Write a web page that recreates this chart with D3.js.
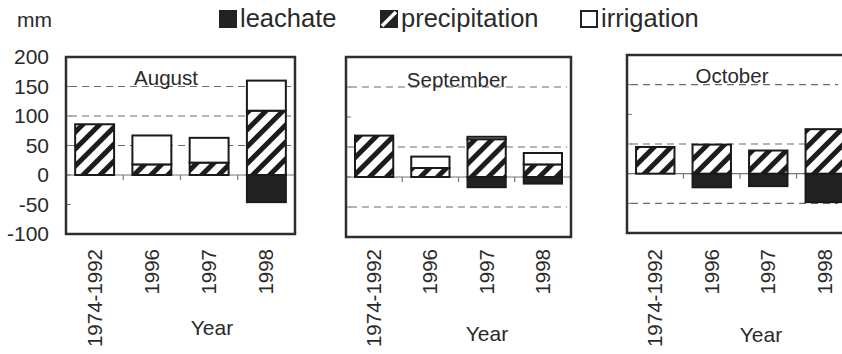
<!DOCTYPE html>
<html>
<head>
<meta charset="utf-8">
<script src="https://cdn.jsdelivr.net/npm/d3@7"></script>
<style>
  body { margin: 0; background: #fff; }
  text { font-family: "Liberation Sans", Arial, sans-serif; fill: #2a2a2a; }
</style>
</head>
<body>
<div id="chart"></div>
<script>
// data (mm)
var years = ["1974-1992", "1996", "1997", "1998"];
var months = ["August", "September", "October"];
var leachate = [
    [0, 0, 0, -46],     // August
    [0, 0, -17, -11],   // September
    [0, -23, -21, -48]  // October
];
var precipitation = [
    [86, 18, 21, 109],
    [69, 15, 63, 21],
    [45, 49, 39, 75]
];
var irrigation = [
    [0, 49, 42, 51],
    [0, 19, 4, 19],
    [0, 0, 0, 0]
];
var yTicks = [200, 150, 100, 50, 0, -50, -100];
// dashed lines that show in each panel of the scan
var gridLines = [[150, 100, 50], [150, 50, -50], [150, 50, -50]];

var width = 842, height = 354;

// panel frames (the scan is not quite square, so each has its own box)
var panels = [
    {x0: 66,  x1: 295, y0: 57, y1: 234, title: [166, 85], year: [212, 335]},
    {x0: 346, x1: 571, y0: 57, y1: 237, title: [457, 87], year: [487, 341]},
    {x0: 627, x1: 853, y0: 55, y1: 233, title: [732, 83], year: [761, 342]}
];

const svg = d3.select("#chart")
    .append("svg")
    .attr("width", width)
    .attr("height", height);

// hatch for precipitation
var defs = svg.append("defs");
defs.append("pattern")
    .attr("id", "hatch")
    .attr("patternUnits", "userSpaceOnUse")
    .attr("width", 12)
    .attr("height", 12)
    .attr("patternTransform", "rotate(45)")
    .call(function(p){
        p.append("rect").attr("width", 12).attr("height", 12).attr("fill", "#fff");
        p.append("rect").attr("width", 5).attr("height", 12).attr("fill", "#1c1c1c");
    });

months.forEach(function(month, m) {
    var p = panels[m];

    var xScale = d3.scaleBand()
        .domain(years)
        .range([p.x0, p.x1])
        .paddingInner(0.32)
        .paddingOuter(0.16);

    var yScale = d3.scaleLinear()
        .domain([-100, 200])
        .range([p.y1, p.y0]);

    var g = svg.append("g").attr("class", "panel");

    // dashed grid
    g.selectAll("line.grid")
        .data(gridLines[m])
        .enter()
        .append("line")
        .attr("class", "grid")
        .attr("x1", p.x0 + 4)
        .attr("x2", Math.min(p.x1, width) - 4)
        .attr("y1", d => yScale(d))
        .attr("y2", d => yScale(d))
        .attr("stroke", "#6a6a6a")
        .attr("stroke-width", 1.2)
        .attr("stroke-dasharray", "7,5");

    // zero line with ticks between categories
    g.append("line")
        .attr("x1", p.x0).attr("x2", Math.min(p.x1, width))
        .attr("y1", yScale(0)).attr("y2", yScale(0))
        .attr("stroke", "#777").attr("stroke-width", 1.2);

    var step = xScale.step();
    g.selectAll("line.xtick")
        .data(years.slice(1))
        .enter()
        .append("line")
        .attr("class", "xtick")
        .attr("x1", d => xScale(d) - step * 0.32 / 2)
        .attr("x2", d => xScale(d) - step * 0.32 / 2)
        .attr("y1", yScale(0))
        .attr("y2", yScale(0) + 5)
        .attr("stroke", "#777").attr("stroke-width", 1.2);

    // small inward ticks on the left edge
    g.selectAll("line.ytick")
        .data(yTicks)
        .enter()
        .append("line")
        .attr("class", "ytick")
        .attr("x1", p.x0).attr("x2", p.x0 + 5)
        .attr("y1", d => yScale(d)).attr("y2", d => yScale(d))
        .attr("stroke", "#777").attr("stroke-width", 1);

    // stacked bars: leachate below zero, precipitation then irrigation above
    var rows = years.map(function(y, i) {
        return {
            year: y,
            leach: leachate[m][i],
            prec: precipitation[m][i],
            irr: irrigation[m][i]
        };
    });

    var bars = g.selectAll("g.bar")
        .data(rows)
        .enter()
        .append("g")
        .attr("class", "bar");

    bars.filter(d => d.leach < 0)
        .append("rect")
        .attr("x", d => xScale(d.year))
        .attr("width", xScale.bandwidth())
        .attr("y", yScale(0))
        .attr("height", d => yScale(d.leach) - yScale(0))
        .attr("fill", "#222")
        .attr("stroke", "#1a1a1a")
        .attr("stroke-width", 2);

    bars.append("rect")
        .attr("x", d => xScale(d.year))
        .attr("width", xScale.bandwidth())
        .attr("y", d => yScale(d.prec))
        .attr("height", d => yScale(0) - yScale(d.prec))
        .attr("fill", "url(#hatch)")
        .attr("stroke", "#1a1a1a")
        .attr("stroke-width", 2);

    bars.filter(d => d.irr > 0)
        .append("rect")
        .attr("x", d => xScale(d.year))
        .attr("width", xScale.bandwidth())
        .attr("y", d => yScale(d.prec + d.irr))
        .attr("height", d => yScale(d.prec) - yScale(d.prec + d.irr))
        .attr("fill", "#fff")
        .attr("stroke", "#1a1a1a")
        .attr("stroke-width", 2);

    // frame
    g.append("rect")
        .attr("x", p.x0).attr("y", p.y0)
        .attr("width", p.x1 - p.x0).attr("height", p.y1 - p.y0)
        .attr("fill", "none")
        .attr("stroke", "#2e2e2e")
        .attr("stroke-width", 2.5);

    // month title
    g.append("text")
        .attr("x", p.title[0]).attr("y", p.title[1])
        .attr("text-anchor", "middle")
        .style("font-size", "20.5px")
        .text(month);

    // rotated year labels
    g.selectAll("text.xlab")
        .data(years)
        .enter()
        .append("text")
        .attr("class", "xlab")
        .attr("transform", d => `translate(${xScale(d) + xScale.bandwidth() / 2 + 7}, 249) rotate(-90)`)
        .attr("text-anchor", "end")
        .style("font-size", "20.5px")
        .text(d => d);

    g.append("text")
        .attr("x", p.year[0]).attr("y", p.year[1])
        .attr("text-anchor", "middle")
        .style("font-size", "21px")
        .text("Year");

    // y axis labels only on the first panel
    if (m === 0) {
        g.selectAll("text.ylab")
            .data(yTicks)
            .enter()
            .append("text")
            .attr("class", "ylab")
            .attr("x", 49)
            .attr("y", d => yScale(d) + 7)
            .attr("text-anchor", "end")
            .style("font-size", "21px")
            .text(d => d);
    }
});

svg.append("text")
    .attr("x", 17).attr("y", 27)
    .style("font-size", "21px")
    .text("mm");

// legend
var legendItems = [
    {label: "leachate", x: 219, fill: "#222"},
    {label: "precipitation", x: 380, fill: "prec"},
    {label: "irrigation", x: 580, fill: "#fff"}
];
var lg = svg.append("g").attr("class", "legend");
legendItems.forEach(function(it) {
    if (it.fill === "prec") {
        lg.append("rect")
            .attr("x", it.x + 1).attr("y", 11).attr("width", 16).attr("height", 16)
            .attr("fill", "#222").attr("stroke", "#222").attr("stroke-width", 2);
        lg.append("line")
            .attr("x1", it.x + 2).attr("y1", 26).attr("x2", it.x + 16).attr("y2", 12)
            .attr("stroke", "#fff").attr("stroke-width", 3.5);
    } else {
        lg.append("rect")
            .attr("x", it.x + 1).attr("y", 11).attr("width", 16).attr("height", 16)
            .attr("fill", it.fill).attr("stroke", "#222").attr("stroke-width", 2);
    }
    lg.append("text")
        .attr("x", it.x + 21).attr("y", 27)
        .style("font-size", "25.5px")
        .text(it.label);
});
</script>
</body>
</html>
